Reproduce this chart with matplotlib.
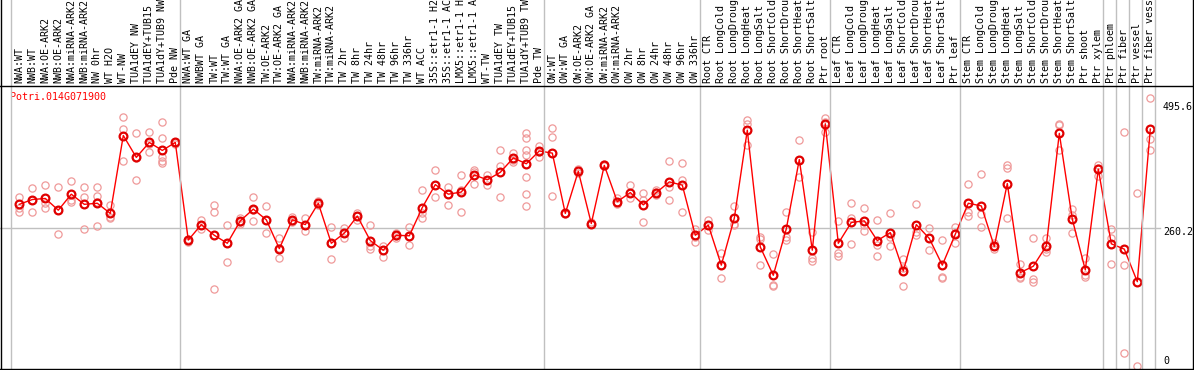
import numpy as np
import matplotlib
matplotlib.use("Agg")
import matplotlib.pyplot as plt
import matplotlib.transforms as mtransforms

# ---- data -----------------------------------------------------------------
GENE = "Potri.014G071900"

samples = [
    "NWA:WT", "NWB:WT", "NWA:OE-ARK2", "NWB:OE-ARK2", "NWA:miRNA-ARK2",
    "NWB:miRNA-ARK2", "NW 0hr", "WT H2O", "WT-NW", "TUA1dEY NW",
    "TUA1dEY+TUB15 NW", "TUA1dY+TUB9 NW", "Pde NW",
    "NWA:WT GA", "NWBWT GA", "TW:WT", "TW:WT GA", "NWA:OE-ARK2 GA",
    "NWB:OE-ARK2 GA", "TW:OE-ARK2", "TW:OE-ARK2 GA", "NWA:miRNA-ARK2",
    "NWB:miRNA-ARK2", "TW:miRNA-ARK2", "TW:miRNA-ARK2 GA", "TW 2hr", "TW 8hr",
    "TW 24hr", "TW 48hr", "TW 96hr", "TW 336hr", "WT ACC", "35S::etr1-1 H2O",
    "35S::etr1-1 ACC", "LMX5::etr1-1 H2O", "LMX5::etr1-1 ACC", "WT-TW",
    "TUA1dEY TW", "TUA1dEY+TUB15 TW", "TUA1dY+TUB9 TW", "Pde TW",
    "OW:WT", "OW:WT GA", "OW:OE-ARK2", "OW:OE-ARK2 GA", "OW:miRNA-ARK2",
    "OW:miRNA-ARK2 GA", "OW 2hr", "OW 8hr", "OW 24hr", "OW 48hr", "OW 96hr",
    "OW 336hr",
    "Root CTR", "Root LongCold", "Root LongDrought", "Root LongHeat",
    "Root LongSalt", "Root ShortCold", "Root ShortDrought", "Root ShortHeat",
    "Root ShortSalt", "Ptr root",
    "Leaf CTR", "Leaf LongCold", "Leaf LongDrought", "Leaf LongHeat",
    "Leaf LongSalt", "Leaf ShortCold", "Leaf ShortDrought", "Leaf ShortHeat",
    "Leaf ShortSalt", "Ptr leaf",
    "Stem CTR", "Stem LongCold", "Stem LongDrought", "Stem LongHeat",
    "Stem LongSalt", "Stem ShortCold", "Stem ShortDrought", "Stem ShortHeat",
    "Stem ShortSalt", "Ptr shoot", "Ptr xylem",
    "Ptr phloem", "Ptr fiber", "Ptr vessel", "Ptr fiber vessel",
]

group_sizes = [13, 28, 12, 10, 10, 11, 1, 1, 1, 1]

means = [
    304, 313, 315, 293, 323, 304, 306, 287, 433, 392, 420, 405, 420,
    237, 266, 246, 231, 273, 295, 275, 221, 275, 266, 306, 231, 250, 282,
    236, 218, 246, 245, 298, 341, 323, 327, 359, 350, 364, 391, 380, 404,
    400, 287, 366, 268, 377, 309, 326, 303, 326, 346, 340, 246,
    265, 190, 278, 443, 224, 171, 258, 388, 218, 455,
    231, 270, 273, 236, 251, 179, 266, 240, 190, 248,
    306, 301, 225, 343, 176, 188, 226, 437, 276, 181, 370,
    230, 220, 159, 445,
]

replicates = [
    [318, 298, 290], [334, 313, 290], [341, 306, 298], [337, 293, 248],
    [348, 312, 309], [337, 317, 257], [337, 320, 309, 263], [303, 280, 279],
    [467, 446, 385], [437, 390, 350], [439, 418, 403],
    [458, 428, 393, 385, 381], [421, 420, 417],
    [239, 236, 234], [275, 265, 258], [303, 289, 146], [265, 231, 196],
    [278, 271, 268], [317, 293, 273], [301, 275, 250], [240, 222, 203],
    [281, 273, 270], [279, 266, 254], [310, 306, 303], [261, 231, 201],
    [260, 250, 240], [288, 282, 275], [265, 225, 220], [225, 218, 206],
    [251, 245, 240], [261, 245, 228], [330, 287, 278], [368, 341, 317],
    [337, 323, 302], [359, 331, 289], [368, 365, 343], [359, 350, 340],
    [405, 375, 317], [401, 387, 384], [438, 428, 406, 396, 356, 323, 301],
    [413, 403, 393],
    [448, 430, 320], [288, 286], [370, 363], [270, 267], [380, 375],
    [315, 309, 304], [340, 326, 315], [325, 312, 270], [331, 328, 321],
    [385, 337, 313], [381, 350, 289], [257, 243, 234],
    [275, 265, 256], [213, 190, 165], [300, 268, 265], [462, 454, 415],
    [243, 239, 190], [210, 153, 150], [289, 243, 238], [425, 388, 355],
    [253, 203, 198], [465, 459, 440],
    [273, 212, 208], [306, 278, 229], [298, 265, 254], [275, 227, 207],
    [287, 243, 226], [201, 185, 151], [304, 253, 246], [260, 240, 218],
    [237, 167, 166], [262, 250, 231],
    [343, 290, 282], [360, 285, 262], [231, 225, 220], [377, 373, 278],
    [193, 168, 165], [240, 164, 159], [240, 221, 215], [454, 452, 405],
    [296, 284, 250], [203, 171, 168], [378, 373, 357],
    [257, 240, 192], [440, 190, 26], [326, 0], [503, 426, 405],
]

ytick_vals = [0, 260.2, 495.6]
ytick_labels = ["0", "260.2", "495.6"]

# ---- canvas ---------------------------------------------------------------
W, H, DPI = 1194, 370, 100
MONO = "DejaVu Sans Mono"
FS = 7.2
GRID = "#c0c0c0"

fig = plt.figure(figsize=(W / DPI, H / DPI), dpi=DPI)

# pixel geometry of the plot area (top = 86 px, bottom = 369 px)
top_px, bot_px = 86, 369
x0_px, dx_px = 19.3, 13.0
ax = fig.add_axes([0, (H - bot_px) / H, 1, (bot_px - top_px) / H])
ax.set_xlim(-x0_px / dx_px, (W - x0_px) / dx_px)
ax.set_ylim(-4.7, 525.8)
ax.axis("off")

# full-figure overlay for frame lines
over = fig.add_axes([0, 0, 1, 1])
over.set_xlim(0, W)
over.set_ylim(H, 0)
over.axis("off")
over.axhline(85.5, color="black", lw=1.0)
over.axhline(368.5, color="black", lw=1.0)
over.axvline(1.0, color="black", lw=1.0)
over.axvline(1193.0, color="black", lw=1.0)

# group separators (full height, gray)
bounds = np.cumsum(group_sizes) - 1
seps = [-0.66] + [b + 0.38 for b in bounds]
for s in seps:
    over.axvline(x0_px + s * dx_px, color=GRID, lw=1.0, zorder=0)

# horizontal guide at the middle tick
ax.plot([ax.get_xlim()[0], (1160 - x0_px) / dx_px], [ytick_vals[1]] * 2,
        color=GRID, lw=1.0, zorder=0)

x = np.arange(len(samples))

# replicates
for i, reps in enumerate(replicates):
    ax.plot([i] * len(reps), reps, "o", ms=5.2, mfc="none",
            mec="#ef9a9a", mew=0.9, zorder=2, clip_on=False)

# mean line
ax.plot(x, means, "-", color="#ff0000", lw=1.0, zorder=3)
ax.plot(x, means, "o", ms=5.6, mfc="none", mec="#e00000", mew=1.6, zorder=4)

# gene name
ax.text(10 / W, 1 - (97 - top_px) / (bot_px - top_px), GENE,
        transform=ax.transAxes, color="#ff0000", fontsize=FS,
        family=MONO, ha="left", va="center")

# rotated sample labels above plot (long ones run off the top, as in the source)
lab_tr = mtransforms.blended_transform_factory(ax.transData, fig.transFigure)
for i, name in enumerate(samples):
    ax.text(i, (H - 83) / H, name, transform=lab_tr, rotation=90,
            ha="center", va="bottom", fontsize=FS, family=MONO,
            color="black", clip_on=False)

# right-side value labels
for val, lab in zip(ytick_vals, ytick_labels):
    off = -4.6 if val > 0 else 5.0
    tr = ax.transData + mtransforms.ScaledTranslation(0, off / DPI,
                                                      fig.dpi_scale_trans)
    ax.text((1163 - x0_px) / dx_px, val, lab, transform=tr, ha="left",
            va="center", fontsize=FS, family=MONO, color="black")

fig.savefig("out.png", dpi=DPI, facecolor="white")
